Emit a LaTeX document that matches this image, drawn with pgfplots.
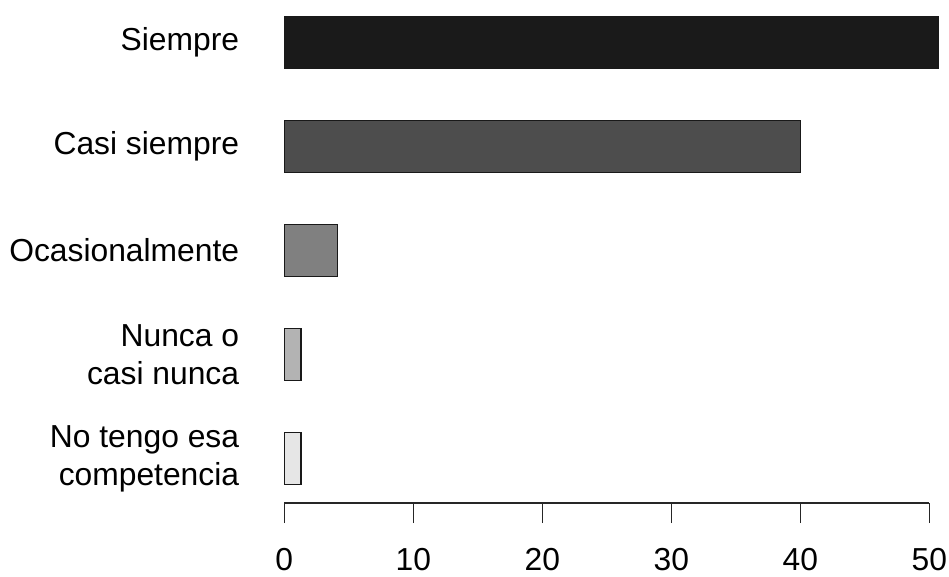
\documentclass[border=0pt]{standalone}
\usepackage{pgfplots}
\pgfplotsset{compat=1.18}
\usepackage{fontspec}
\setmainfont{Liberation Sans}
\definecolor{g1}{HTML}{1A1A1A}
\definecolor{g2}{HTML}{4D4D4D}
\definecolor{g3}{HTML}{808080}
\definecolor{g4}{HTML}{B3B3B3}
\definecolor{g5}{HTML}{E6E6E6}
\begin{document}
\begin{tikzpicture}
\path[use as bounding box] (0,0) rectangle (949pt,576pt);
\begin{axis}[
  at={(284.3pt,73pt)}, anchor=south west,
  scale only axis, width=645pt, height=486.5pt,
  xmin=0, xmax=50, ymin=0.572, ymax=5.25,
  clip=false,
  axis x line*=bottom, axis y line*=left,
  xtick={0,10,20,30,40,50},
  ytick={1,2,3,4,5},
  yticklabels={{No tengo esa\\competencia},{Nunca o\\casi nunca},Ocasionalmente,Casi siempre,Siempre},
  /pgf/number format/assume math mode=true,
  tick align=outside, major tick length=20pt,
  x axis line style={line width=1.2pt, draw=black!85},
  y axis line style={draw=none},
  xtick style={line width=1.2pt, draw=black!85},
  ytick style={draw=none},
  xticklabel style={font=\fontsize{31.8}{38}\selectfont, anchor=north, inner sep=0pt, yshift=-25pt},
  yticklabel style={font=\fontsize{31.8}{38}\selectfont, align=right, anchor=east, inner sep=0pt, xshift=-25pt},
  every axis plot/.append style={xbar, bar width=52pt, bar shift=0pt, draw=black!90, line width=1.2pt},
]
\addplot[fill=g1] coordinates {(50.67,5)};
\addplot[fill=g2] coordinates {(40.03,4)};
\addplot[fill=g3] coordinates {(4.13,3)};
\addplot[fill=g4] coordinates {(1.30,2)};
\addplot[fill=g5] coordinates {(1.30,1)};
\end{axis}
\end{tikzpicture}
\end{document}
